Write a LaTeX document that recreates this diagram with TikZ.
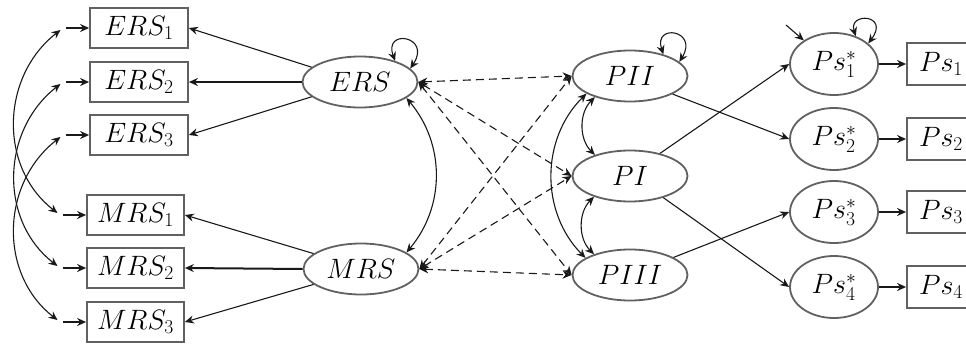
\RequirePackage{fix-cm}
\documentclass[tikz,border=0pt]{standalone}
\usetikzlibrary{shapes.geometric,arrows.meta}
\begin{document}
\begin{tikzpicture}[x=1pt,y=-1pt,
  every node/.style={font=\fontsize{28}{33}\selectfont},
  obs/.style={draw=black!62,line width=1.8pt,rectangle,minimum width=98pt,minimum height=40pt,inner sep=0pt},
  lat/.style={draw=black!62,line width=1.8pt,ellipse,minimum width=115pt,minimum height=51pt,inner sep=0pt},
  lats/.style={draw=black!62,line width=1.8pt,ellipse,minimum width=88pt,minimum height=62pt,inner sep=0pt},
  err/.style={circle,inner sep=0pt,minimum size=6pt},
  arr/.style={-{Stealth[length=9pt,width=8pt,inset=3pt]},line width=1.1pt,black!90},
  darr/.style={{Stealth[length=9pt,width=8pt,inset=3pt]}-{Stealth[length=9pt,width=8pt,inset=3pt]},line width=1.1pt,black!90},
  thk/.style={line width=2pt},
  dsh/.style={dash pattern=on 8pt off 5pt}
]
\useasboundingbox (0,0) rectangle (966,345);
% indicators
\node[obs] (ERS1) at (139,28) {$ERS_1$};
\node[obs] (ERS2) at (139,82) {$ERS_2$};
\node[obs] (ERS3) at (139,135) {$ERS_3$};
\node[obs,minimum width=97pt] (MRS1) at (135.5,215) {$MRS_1$};
\node[obs,minimum width=97pt] (MRS2) at (135.5,268) {$MRS_2$};
\node[obs,minimum width=97pt] (MRS3) at (135.5,322) {$MRS_3$};
% error points
\node[err] (e1) at (63,28) {};
\node[err] (e2) at (63,82) {};
\node[err] (e3) at (63,135) {};
\node[err] (m1) at (60,215) {};
\node[err] (m2) at (60,268) {};
\node[err] (m3) at (60,322) {};
% latents
\node[lat] (ERS) at (360,82) {$ERS$};
\node[lat] (MRS) at (361,269) {$MRS$};
\node[lat] (PII) at (630,76) {$PII$};
\node[lat] (PI) at (630,176) {$PI$};
\node[lat] (PIII) at (630,275) {$PIII$};
\node[lats] (S1) at (834,64) {$Ps^*_1$};
\node[lats] (S2) at (834,139) {$Ps^*_2$};
\node[lats] (S3) at (834,212) {$Ps^*_3$};
\node[lats] (S4) at (834,287) {$Ps^*_4$};
\node[obs,minimum width=68pt,minimum height=42pt] (O1) at (941,64) {$Ps_1$};
\node[obs,minimum width=68pt,minimum height=42pt] (O2) at (941,139) {$Ps_2$};
\node[obs,minimum width=68pt,minimum height=42pt] (O3) at (941,212) {$Ps_3$};
\node[obs,minimum width=68pt,minimum height=42pt] (O4) at (941,287) {$Ps_4$};
\coordinate (s1in) at (786,25);
% error arrows
\draw[arr,thk] (e1) -- (ERS1);
\draw[arr,thk] (e2) -- (ERS2);
\draw[arr,thk] (e3) -- (ERS3);
\draw[arr,thk] (m1) -- (MRS1);
\draw[arr,thk] (m2) -- (MRS2);
\draw[arr,thk] (m3) -- (MRS3);
\draw[darr] (e1) to[out=218,in=142,looseness=1.05] (m1);
\draw[darr] (e2) to[out=218,in=142,looseness=1.05] (m2);
\draw[darr] (e3) to[out=218,in=142,looseness=1.05] (m3);
% loadings
\draw[arr] (ERS.163) -- (ERS1.east);
\draw[arr,thk] (ERS.west) -- (ERS2.east);
\draw[arr] (ERS.197) -- (ERS3.east);
\draw[arr] (MRS.162) -- (MRS1.east);
\draw[arr,thk] (MRS.west) -- (MRS2.east);
\draw[arr] (MRS.198) -- (MRS3.east);
% loops
\draw[darr] (ERS.31) .. controls (383,28) and (432,36) .. (ERS.15);
\draw[darr] (PII.33) .. controls (653,23) and (699,30) .. (PII.16);
\draw[darr] (S1.52) .. controls (848,12) and (890,14) .. (S1.31);
\draw[arr] (s1in) -- (S1.142);
% covariances
\draw[darr] (ERS.341) to[bend left=40] (MRS.20);
\draw[darr] (PII.211) to[bend right=45] (PI.149);
\draw[darr] (PI.210) to[bend right=45] (PIII.150);
\draw[darr] (PII.202) to[bend right=45] (PIII.159);
% dashed
\draw[darr,dsh] (ERS.east) -- (PII.west);
\draw[darr,dsh] (ERS.east) -- (PI.west);
\draw[darr,dsh] (ERS.east) -- (PIII.west);
\draw[darr,dsh] (MRS.east) -- (PII.west);
\draw[darr,dsh] (MRS.east) -- (PI.west);
\draw[darr,dsh] (MRS.east) -- (PIII.west);
% structural
\draw[arr] (PI.37) -- (S1.west);
\draw[arr] (PII.-23) -- (S2.west);
\draw[arr] (PI.-33) -- (S4.west);
\draw[arr] (PIII.22) -- (S3.west);
\draw[arr,thk] (S1) -- (O1);
\draw[arr,thk] (S2) -- (O2);
\draw[arr,thk] (S3) -- (O3);
\draw[arr,thk] (S4) -- (O4);
\end{tikzpicture}
\end{document}
